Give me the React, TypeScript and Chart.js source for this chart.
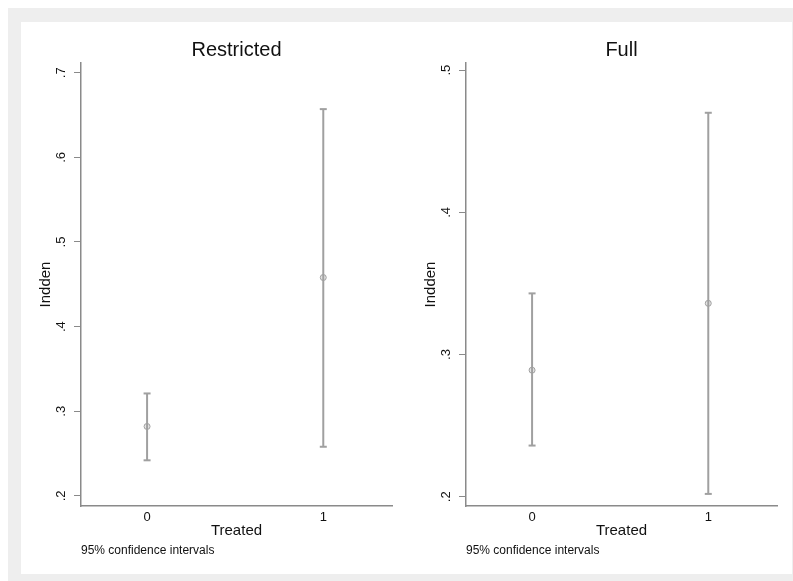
import React, { useEffect, useRef } from "react";
import { Chart, registerables } from "chart.js";

Chart.register(...registerables);

// ---- data ----
const categories = [0, 1];
const xTickLabels = ["0", "1"];

const restrictedMean = [0.282, 0.458];
const restrictedLow = [0.242, 0.258];
const restrictedHigh = [0.321, 0.657];
const restrictedYTicks = [0.2, 0.3, 0.4, 0.5, 0.6, 0.7];

const fullMean = [0.289, 0.336];
const fullLow = [0.236, 0.202];
const fullHigh = [0.343, 0.47];
const fullYTicks = [0.2, 0.3, 0.4, 0.5];

const AXIS = "#8a8a8a";
const BAR = "#a0a0a0";
const TEXT = "#111111";
const FONT = "'Liberation Sans', Arial, sans-serif";

type PanelProps = {
  title: string;
  mean: number[];
  low: number[];
  high: number[];
  yTicks: number[];
  yMin: number;
  yMax: number;
};

function Panel({ title, mean, low, high, yTicks, yMin, yMax }: PanelProps) {
  const ref = useRef<HTMLCanvasElement | null>(null);
  useEffect(() => {
    if (!ref.current) return;
    Chart.defaults.font.family = FONT;
    const barSets = categories.map((c, i) => ({
      type: "scatter" as const,
      data: [
        { x: c, y: low[i] },
        { x: c, y: high[i] },
      ],
      showLine: true,
      borderColor: BAR,
      borderWidth: 2,
      pointStyle: "line" as const,
      pointRadius: 3.5,
      pointBorderWidth: 2,
      pointBorderColor: BAR,
      pointBackgroundColor: BAR,
    }));
    const meanSet = {
      type: "scatter" as const,
      data: categories.map((c, i) => ({ x: c, y: mean[i] })),
      showLine: false,
      pointStyle: "circle" as const,
      pointRadius: 3,
      pointBorderWidth: 1,
      pointBorderColor: BAR,
      pointBackgroundColor: "#e4e4e4",
    };
    const chart = new Chart(ref.current, {
      type: "scatter",
      data: { datasets: [...barSets, meanSet] as any },
      options: {
        animation: false,
        responsive: false,
        events: [],
        layout: { padding: { left: 0, right: 14, top: 0, bottom: 0 } },
        plugins: {
          legend: { display: false },
          tooltip: { enabled: false },
          title: {
            display: true,
            text: title,
            fullSize: false,
            color: TEXT,
            font: { size: 20, weight: "normal", lineHeight: 1.2 },
            padding: { top: 16.7, bottom: 0.3 },
          },
          subtitle: {
            display: true,
            text: "95% confidence intervals",
            position: "bottom",
            align: "start",
            fullSize: false,
            color: TEXT,
            font: { size: 12, lineHeight: 1.2 },
            padding: { top: 0, bottom: 15.8 },
          },
        },
        scales: {
          x: {
            type: "linear",
            min: -0.375,
            max: 1.39,
            afterBuildTicks: (s: any) => {
              s.ticks = categories.map((v) => ({ value: v }));
            },
            afterFit: (s: any) => {
              s.height = 37.8;
            },
            grid: { display: false, drawTicks: false, tickLength: 0 },
            border: { display: true, color: AXIS, width: 1.5 },
            ticks: {
              color: TEXT,
              padding: 4,
              font: { size: 13 },
              callback: (v: any) => xTickLabels[categories.indexOf(Number(v))] ?? "",
            },
            title: {
              display: true,
              text: "Treated",
              color: TEXT,
              font: { size: 15, lineHeight: 1.2 },
              padding: { top: 0, bottom: 3.6 },
            },
          },
          y: {
            type: "linear",
            min: yMin,
            max: yMax,
            afterBuildTicks: (s: any) => {
              s.ticks = yTicks.map((v) => ({ value: v }));
            },
            afterFit: (s: any) => {
              s.width = 60;
            },
            grid: {
              drawOnChartArea: false,
              drawTicks: true,
              tickLength: 7,
              color: AXIS,
              lineWidth: 1,
            },
            border: { display: true, color: AXIS, width: 1.5 },
            ticks: {
              color: TEXT,
              minRotation: 90,
              maxRotation: 90,
              crossAlign: "center",
              padding: 7,
              font: { size: 13 },
              callback: (v: any) => Number(v).toFixed(1).replace(/^0/, ""),
            },
            title: {
              display: true,
              text: "Indden",
              color: TEXT,
              font: { size: 15, lineHeight: 1.2 },
              padding: { top: 16, bottom: 0 },
            },
          },
        },
      } as any,
    });
    return () => chart.destroy();
  }, []);
  return <canvas ref={ref} width={385} height={552} style={{ display: "block" }} />;
}

export default function App() {
  return (
    <div
      style={{
        position: "fixed",
        left: 8,
        top: 8,
        width: 785,
        height: 573,
        background: "#eeeeee",
        overflow: "hidden",
      }}
    >
      <div
        style={{
          position: "absolute",
          left: 13,
          top: 14,
          width: 771,
          height: 552,
          background: "#ffffff",
          display: "flex",
        }}
      >
        <Panel
          title="Restricted"
          mean={restrictedMean}
          low={restrictedLow}
          high={restrictedHigh}
          yTicks={restrictedYTicks}
          yMin={0.188}
          yMax={0.7115}
        />
        <Panel
          title="Full"
          mean={fullMean}
          low={fullLow}
          high={fullHigh}
          yTicks={fullYTicks}
          yMin={0.1935}
          yMax={0.505}
        />
      </div>
    </div>
  );
}
